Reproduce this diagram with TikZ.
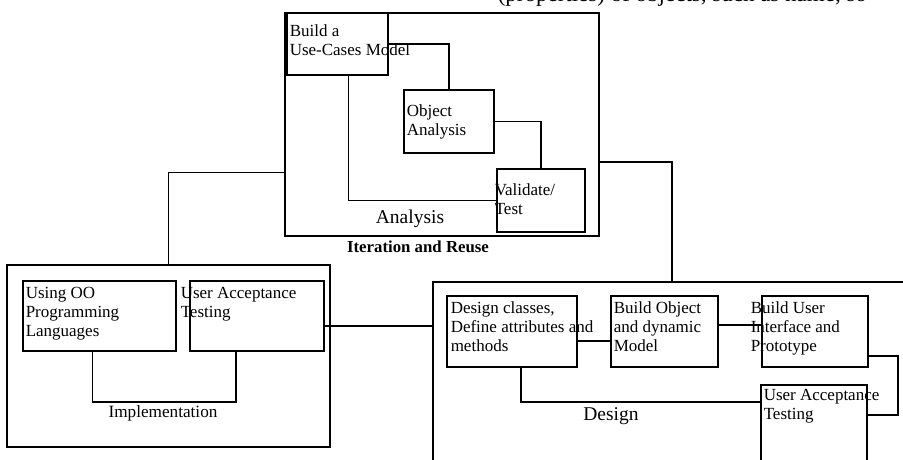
\documentclass[tikz,border=0pt]{standalone}
\usepackage{fontspec}
\setmainfont{Liberation Serif}
\newcommand\mlines[1]{\begin{tabular}[t]{@{}l@{}}#1\end{tabular}}
\begin{document}
\begin{tikzpicture}[x=1pt,y=-1pt, line width=1.5pt,
  bx/.style={draw, rectangle, inner sep=0pt, outer sep=0pt, anchor=north west},
  txt/.style={inner sep=0pt, anchor=base west, font=\fontsize{17}{19}\selectfont},
  lbl/.style={inner sep=0pt, anchor=base, font=\fontsize{19.5}{22}\selectfont}]
\useasboundingbox (0,0) rectangle (903,459);
\clip (0,0) rectangle (903,459);
% top cut-off text
\node[inner sep=0pt, anchor=base west, font=\fontsize{23}{26}\selectfont] (toptext) at (497,1.5) {(properties) of objects, such as name, so};
% boxes
\node[bx, minimum width=314pt, minimum height=223pt] (an) at (285,13) {};
\node[bx, minimum width=101pt, minimum height=62pt] (uc) at (287,13) {};
\node[bx, minimum width=90pt, minimum height=63pt] (oa) at (404,90) {};
\node[bx, minimum width=88pt, minimum height=63pt] (vt) at (497,169) {};
\node[bx, minimum width=323pt, minimum height=182pt] (im) at (7,265) {};
\node[bx, minimum width=153pt, minimum height=70pt] (uo) at (23,281) {};
\node[bx, minimum width=134pt, minimum height=70pt] (iu) at (190,281) {};
\node[bx, minimum width=478pt, minimum height=200pt] (ds) at (433,282) {};
\node[bx, minimum width=130pt, minimum height=71pt] (dc) at (447,296) {};
\node[bx, minimum width=107pt, minimum height=71pt] (bo) at (611,296) {};
\node[bx, minimum width=106pt, minimum height=71pt] (bu) at (762,296) {};
\node[bx, minimum width=106pt, minimum height=90pt] (du) at (761,385) {};
% connectors
\draw (uc.east) -| (oa.north);
\draw (oa.east) -| (vt.north);
\draw ([xshift=11pt]uc.south) |- (vt.west);
\draw ([yshift=-48pt]an.west) -| (im.north);
\draw ([yshift=-37.5pt]an.east) -| (ds.north);
\draw ([yshift=-10pt]iu.east) coordinate (p1) -- (p1 -| ds.west);
\draw ([xshift=-7pt]uo.south) -- ++(0,51) -| ([xshift=-21pt]iu.south);
\draw ([yshift=-9.5pt]dc.east) coordinate (p2) -- (p2 -| bo.west);
\draw ([yshift=6.5pt]bo.east) coordinate (p3) -- (p3 -| bu.west);
\draw ([yshift=-24.5pt]bu.east) -- ++(30,0) |- ([yshift=15pt]du.east);
\draw ([xshift=9pt]dc.south) |- ([yshift=28pt]du.west);
% box texts
\node[txt] (uct) at (289,36) {\mlines{Build a\\Use-Cases Model}};
\node[txt] (oat) at (406,116) {\mlines{Object\\Analysis}};
\node[txt] (vtt) at (494,195) {\mlines{Validate/\\Test}};
\node[txt] (uot) at (25,298) {\mlines{Using OO\\Programming\\Languages}};
\node[txt] (iut) at (180,298) {\mlines{User Acceptance\\Testing}};
\node[txt] (dct) at (450,313) {\mlines{Design classes,\\Define attributes and\\methods}};
\node[txt] (bot) at (613,313) {\mlines{Build Object\\and dynamic\\Model}};
\node[txt] (but) at (750,313) {\mlines{Build User\\Interface and\\Prototype}};
\node[txt] (dut) at (763,400) {\mlines{User Acceptance\\Testing}};
% labels
\node[lbl] (anl) at (410,223) {Analysis};
\node[inner sep=0pt, anchor=base, font=\fontsize{16.8}{19}\selectfont\bfseries] (irl) at (418,252) {Iteration and Reuse};
\node[inner sep=0pt, anchor=base, font=\fontsize{17.2}{19}\selectfont] (iml) at (163,417) {Implementation};
\node[lbl] (dsl) at (611,420) {Design};
\end{tikzpicture}
\end{document}
